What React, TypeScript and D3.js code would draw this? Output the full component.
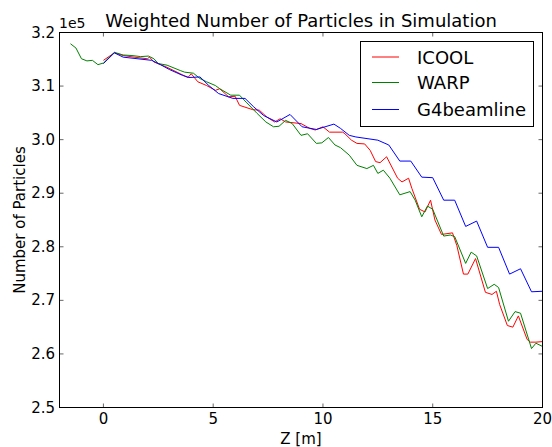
import React from "react";
import * as d3 from "d3";

const zIcool = [0, 0.5, 0.9, 1.4, 2.0, 2.1, 2.3, 2.9, 3.5, 3.85, 4.0, 4.3, 4.7, 5.1, 5.3, 5.7, 6.0, 6.2, 6.8, 7.1, 7.45, 7.8, 8.05, 8.3, 9.0, 9.4, 9.65, 10.0, 10.3, 10.9, 11.0, 11.3, 11.55, 11.9, 12.15, 12.4, 12.6, 12.9, 13.4, 13.6, 13.9, 14.05, 14.4, 14.65, 14.9, 15.1, 15.4, 15.9, 16.1, 16.4, 16.6, 16.95, 17.4, 17.7, 17.9, 18.05, 18.4, 18.65, 18.9, 19.3, 19.45, 19.7, 20.0];
const icool = [3.148, 3.162, 3.157, 3.154, 3.151, 3.154, 3.145, 3.135, 3.123, 3.116, 3.123, 3.108, 3.101, 3.092, 3.095, 3.080, 3.081, 3.064, 3.056, 3.055, 3.042, 3.033, 3.039, 3.033, 3.030, 3.021, 3.018, 3.024, 3.014, 3.014, 3.011, 2.999, 2.993, 2.992, 2.980, 2.959, 2.957, 2.968, 2.928, 2.921, 2.928, 2.909, 2.870, 2.865, 2.887, 2.850, 2.823, 2.826, 2.802, 2.749, 2.749, 2.778, 2.715, 2.711, 2.717, 2.692, 2.653, 2.650, 2.671, 2.627, 2.622, 2.622, 2.623];

const zWarp = [-1.5, -1.25, -1.0, -0.75, -0.5, -0.25, 0, 0.5, 0.9, 1.3, 1.7, 2.05, 2.3, 2.5, 2.9, 3.5, 3.7, 4.1, 4.4, 4.7, 5.1, 5.3, 5.8, 6.2, 6.5, 7.0, 7.4, 7.75, 8.0, 8.3, 8.6, 9.0, 9.3, 9.7, 9.95, 10.25, 10.55, 10.8, 11.2, 11.55, 12.0, 12.3, 12.5, 12.75, 13.05, 13.5, 13.97, 14.2, 14.5, 14.76, 15.0, 15.5, 15.8, 16.0, 16.5, 16.75, 17.0, 17.5, 17.8, 18.0, 18.45, 18.75, 19.0, 19.5, 19.7, 20.0];
const warp = [3.179, 3.171, 3.151, 3.147, 3.148, 3.140, 3.143, 3.163, 3.158, 3.157, 3.155, 3.156, 3.151, 3.142, 3.139, 3.129, 3.126, 3.124, 3.114, 3.108, 3.101, 3.095, 3.083, 3.083, 3.070, 3.049, 3.033, 3.024, 3.025, 3.036, 3.030, 3.008, 3.011, 2.993, 2.994, 3.004, 2.990, 2.985, 2.971, 2.952, 2.946, 2.952, 2.937, 2.943, 2.928, 2.897, 2.903, 2.887, 2.856, 2.876, 2.870, 2.820, 2.822, 2.819, 2.769, 2.790, 2.783, 2.722, 2.730, 2.724, 2.661, 2.679, 2.676, 2.610, 2.620, 2.614];

const zG4 = [0, 0.5, 0.9, 2.2, 2.6, 3.0, 3.6, 3.9, 4.4, 4.8, 5.25, 5.9, 6.45, 6.85, 7.3, 7.9, 8.5, 9.05, 9.7, 10.5, 10.8, 11.2, 11.5, 12.5, 13.0, 13.5, 14.0, 14.5, 15.0, 15.5, 16.0, 16.5, 17.0, 17.5, 18.0, 18.5, 19.0, 19.5, 20.0];
const g4 = [3.142, 3.162, 3.154, 3.148, 3.140, 3.131, 3.120, 3.116, 3.117, 3.101, 3.086, 3.077, 3.077, 3.061, 3.045, 3.033, 3.047, 3.024, 3.019, 3.029, 3.021, 3.008, 3.005, 2.999, 2.990, 2.960, 2.960, 2.930, 2.929, 2.887, 2.887, 2.838, 2.848, 2.799, 2.799, 2.749, 2.759, 2.716, 2.717];

const xTicks = [0, 5, 10, 15, 20];
const yTicks = [2.5, 2.6, 2.7, 2.8, 2.9, 3.0, 3.1, 3.2];
const seriesNames = ["ICOOL", "WARP", "G4beamline"];
const seriesColors = ["#ff0000", "#008000", "#0000ff"];

const W = 552, H = 447;
const L = 59.5, R = 542.5, T = 32.5, B = 407.5;
const FONT = "DejaVu Sans, sans-serif";

export default function App() {
  const x = d3.scaleLinear().domain([-2, 20]).range([L, R]);
  const y = d3.scaleLinear().domain([2.5, 3.2]).range([B, T]);
  const line = d3.line<[number, number]>().x(d => x(d[0])).y(d => y(d[1]));
  const series = [
    zIcool.map((z, i) => [z, icool[i]] as [number, number]),
    zWarp.map((z, i) => [z, warp[i]] as [number, number]),
    zG4.map((z, i) => [z, g4[i]] as [number, number]),
  ];
  const tickLen = 4;
  const legendRows = [57, 82.5, 109.5];
  return (
    <svg width={W} height={H} style={{ position: "absolute", left: 0, top: 0, background: "#fff" }} fontFamily={FONT}>
      <rect x={0} y={0} width={W} height={H} fill="#fff" />
      <defs>
        <clipPath id="plotclip">
          <rect x={L} y={T} width={R - L} height={B - T} />
        </clipPath>
      </defs>
      <g clipPath="url(#plotclip)">
        {series.map((s, i) => (
          <path key={i} d={line(s) || ""} fill="none" stroke={seriesColors[i]} strokeWidth={1} />
        ))}
      </g>
      {/* ticks */}
      {xTicks.map(t => (
        <g key={"xt" + t}>
          <line x1={x(t)} x2={x(t)} y1={B} y2={B - tickLen} stroke="#000" strokeWidth={0.6} />
          <line x1={x(t)} x2={x(t)} y1={T} y2={T + tickLen} stroke="#000" strokeWidth={0.6} />
          <text x={x(t)} y={424} textAnchor="middle" fontSize={15} fill="#000">{t}</text>
        </g>
      ))}
      {yTicks.map(t => (
        <g key={"yt" + t}>
          <line x1={L} x2={L + tickLen} y1={y(t)} y2={y(t)} stroke="#000" strokeWidth={0.6} />
          <line x1={R} x2={R - tickLen} y1={y(t)} y2={y(t)} stroke="#000" strokeWidth={0.6} />
          <text x={55} y={y(t) + 5} textAnchor="end" fontSize={15} fill="#000">{t.toFixed(1)}</text>
        </g>
      ))}
      <rect x={L} y={T} width={R - L} height={B - T} fill="none" stroke="#000" strokeWidth={1} />
      <text x={59} y={28} fontSize={14} fill="#000">1e5</text>
      <text x={(L + R) / 2} y={27} textAnchor="middle" fontSize={18} fill="#000">Weighted Number of Particles in Simulation</text>
      <text x={(L + R) / 2} y={444} textAnchor="middle" fontSize={15} fill="#000">Z [m]</text>
      <text transform={`translate(25,${(T + B) / 2}) rotate(-90)`} textAnchor="middle" fontSize={15} fill="#000">Number of Particles</text>
      {/* legend */}
      <rect x={360.5} y={41.5} width={173} height={85} fill="#fff" stroke="#000" strokeWidth={1} />
      {seriesNames.map((n, i) => (
        <g key={n}>
          <line x1={372} x2={399} y1={legendRows[i]} y2={legendRows[i]} stroke={seriesColors[i]} strokeWidth={1} />
          <text x={417} y={legendRows[i] + 6.5} fontSize={18} fill="#000">{n}</text>
        </g>
      ))}
    </svg>
  );
}
